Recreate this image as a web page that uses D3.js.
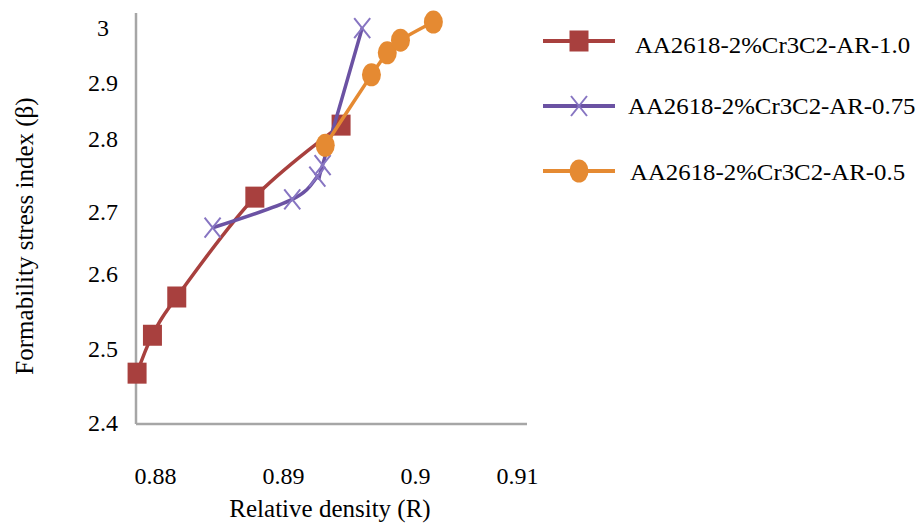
<!DOCTYPE html>
<html>
<head>
<meta charset="utf-8">
<script src="https://cdn.jsdelivr.net/npm/d3@7"></script>
<style>
  html, body { margin: 0; padding: 0; background: #fff; }
  svg { display: block; }
  text { font-family: "Liberation Serif", "Times New Roman", serif; fill: #000; }
</style>
</head>
<body>
<svg id="chart" width="920" height="526"></svg>
<script>
// ---- data ----
const seriesNames = ["AA2618-2%Cr3C2-AR-1.0", "AA2618-2%Cr3C2-AR-0.75", "AA2618-2%Cr3C2-AR-0.5"];
const ar10X = [0.8786, 0.8798, 0.8817, 0.8878, 0.8944];
const ar10Y = [2.466, 2.517, 2.568, 2.719, 2.823];
const ar075X = [0.8845, 0.8907, 0.8926, 0.8930, 0.8960];
const ar075Y = [2.673, 2.716, 2.747, 2.763, 2.998];
const ar05X = [0.8932, 0.8967, 0.8979, 0.8989, 0.9018];
const ar05Y = [2.790, 2.913, 2.953, 2.976, 3.009];
const xTicks = [0.88, 0.89, 0.90, 0.91];
const yTicks = [2.4, 2.5, 2.6, 2.7, 2.8, 2.9, 3.0];
const xTitle = "Relative density (R)";
const yTitle = "Formability stress index (β)";

// ---- layout ----
const svg = d3.select("#chart");
const colors = ["#A8403E", "#6B52A3", "#E58A32"];
const markerColors = ["#A8403E", "#8775C2", "#E58A32"];
const serif = "'Liberation Serif', 'Times New Roman', serif";

const x = d3.scaleLinear().domain(xTicks).range([155, 283, 415, 517]);
const y = d3.scaleLinear().domain(yTicks).range([422, 348, 273, 211, 138, 82, 27]);

const axisX0 = 136, axisX1 = 527, axisY0 = 424, axisY1 = 13;

// axis lines
svg.append("line").attr("x1", axisX0).attr("x2", axisX0).attr("y1", axisY1).attr("y2", axisY0)
  .attr("stroke", "#a6a6a6").attr("stroke-width", 2.5);
svg.append("line").attr("x1", axisX0).attr("x2", axisX1).attr("y1", axisY0).attr("y2", axisY0)
  .attr("stroke", "#a6a6a6").attr("stroke-width", 2.5);

// y tick labels
const yAxis = svg.append("g").attr("transform", `translate(${axisX0},0)`)
  .call(d3.axisLeft(y).tickValues(yTicks).tickSize(0).tickPadding(33).tickFormat(d => String(+d.toFixed(1))));
yAxis.attr("font-family", null).attr("font-size", null);
yAxis.select(".domain").remove();
yAxis.selectAll("text").attr("text-anchor", "middle").attr("dy", "0.35em")
  .style("font-family", serif).style("font-size", "24px").attr("fill", "#000");

// x tick labels
const xAxis = svg.append("g").attr("transform", `translate(0,${axisY0})`)
  .call(d3.axisBottom(x).tickValues(xTicks).tickSize(0).tickPadding(0).tickFormat(d => String(+d.toFixed(2))));
xAxis.attr("font-family", null).attr("font-size", null);
xAxis.select(".domain").remove();
xAxis.selectAll("text").attr("y", 60).attr("dy", 0)
  .style("font-family", serif).style("font-size", "24px").attr("fill", "#000");

// titles
svg.append("text").attr("x", 330).attr("y", 517).attr("text-anchor", "middle")
  .style("font-size", "25px").text(xTitle);
svg.append("text").attr("transform", "translate(33,236) rotate(-90)").attr("text-anchor", "middle")
  .style("font-size", "25px").text(yTitle);

// series
const series = [
  { name: seriesNames[0], xs: ar10X, ys: ar10Y, marker: "square" },
  { name: seriesNames[1], xs: ar075X, ys: ar075Y, marker: "cross" },
  { name: seriesNames[2], xs: ar05X, ys: ar05Y, marker: "circle" }
];

const line = d3.line().x(d => x(d[0])).y(d => y(d[1])).curve(d3.curveCardinal.tension(0));

function drawMarker(g, type, cx, cy, i) {
  if (type === "square") {
    g.append("rect").attr("x", cx - 9.5).attr("y", cy - 10.5).attr("width", 19).attr("height", 21)
      .attr("fill", colors[i]);
  } else if (type === "cross") {
    g.append("path").attr("d", `M${cx - 8},${cy - 10}L${cx + 8},${cy + 10}M${cx - 8},${cy + 10}L${cx + 8},${cy - 10}`)
      .attr("stroke", markerColors[i]).attr("stroke-width", 2).attr("fill", "none");
  } else {
    g.append("ellipse").attr("cx", cx).attr("cy", cy).attr("rx", 9.5).attr("ry", 11.5)
      .attr("fill", colors[i]);
  }
}

series.forEach((s, i) => {
  const g = svg.append("g");
  const pts = s.xs.map((v, k) => [v, s.ys[k]]);
  g.append("path").attr("d", line(pts)).attr("fill", "none")
    .attr("stroke", colors[i]).attr("stroke-width", 3.5).attr("stroke-linejoin", "round");
  pts.forEach(p => drawMarker(g, s.marker, x(p[0]), y(p[1]), i));
});

// legend
const legendY = [41, 106, 171];
const legendTextX = [635, 628, 630];
const legendBase = [53, 114, 180];
const legend = svg.append("g");
series.forEach((s, i) => {
  const ly = legendY[i];
  legend.append("line").attr("x1", 543).attr("x2", 615).attr("y1", ly).attr("y2", ly)
    .attr("stroke", colors[i]).attr("stroke-width", 4);
  drawMarker(legend, s.marker, 579, ly, i);
  legend.append("text").attr("transform", `translate(${legendTextX[i]},${legendBase[i]}) scale(1.08,1)`)
    .style("font-size", "23px").text(s.name);
});
</script>
</body>
</html>
